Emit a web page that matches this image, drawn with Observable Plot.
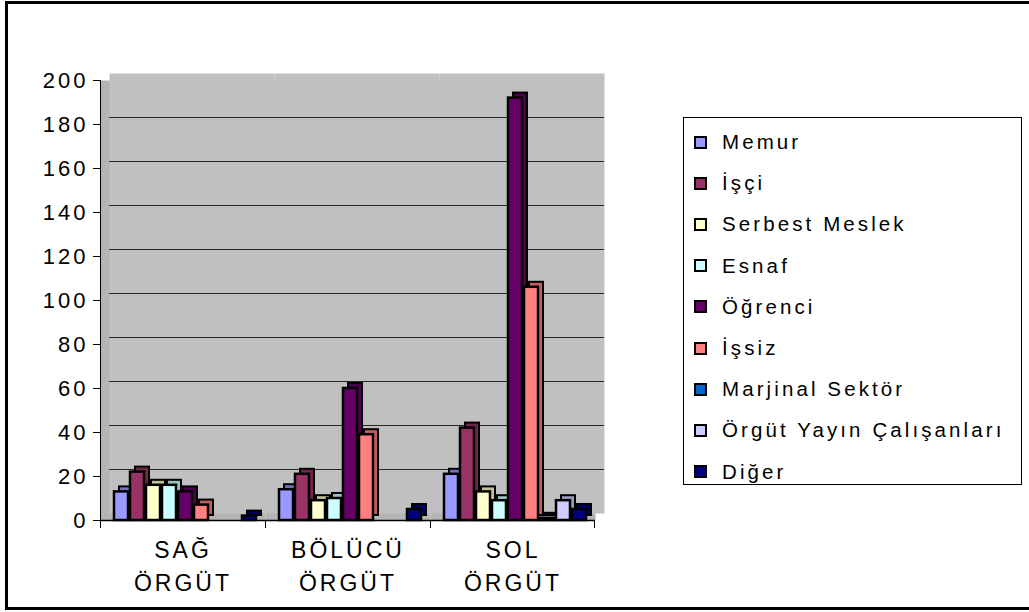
<!DOCTYPE html>
<html>
<head>
<meta charset="utf-8">
<script src="https://cdn.jsdelivr.net/npm/d3@7"></script>
<script src="https://cdn.jsdelivr.net/npm/@observablehq/plot@0.6"></script>
<style>
  html, body { margin: 0; padding: 0; background: #fff; }
  #wrap { position: relative; width: 1029px; height: 612px; overflow: hidden; font-family: "Liberation Sans", Arial, sans-serif; }
  #border { position: absolute; left: 5px; top: 1px; width: 1040px; height: 609px; border: 3px solid #000; box-sizing: border-box; }
  #chart { position: absolute; left: 0; top: 0; }
  #legend { position: absolute; left: 683px; top: 117px; width: 339px; height: 368px; border: 1px solid #000; box-sizing: border-box; background: #fff; }
  .item { position: absolute; left: 10px; height: 24px; display: flex; align-items: center; font-size: 20.5px; letter-spacing: 3.1px; color: #000; white-space: nowrap; }
  .sw { width: 9px; height: 9px; border: 2px solid #000; margin-right: 15px; flex: none; }
</style>
</head>
<body>
<div id="wrap">
  <div id="border"></div>
  <div id="chart"></div>
  <div id="legend"></div>
</div>
<script>
const groups = ["SAĞ ÖRGÜT", "BÖLÜCÜ ÖRGÜT", "SOL ÖRGÜT"];
const series = ["Memur", "İşçi", "Serbest Meslek", "Esnaf", "Öğrenci", "İşsiz", "Marjinal Sektör", "Örgüt Yayın Çalışanları", "Diğer"];
const colors = ["#9999FF", "#993366", "#FFFFCC", "#CCFFFF", "#660066", "#FF8080", "#0066CC", "#CCCCFF", "#000080"];
const sagValues    = [13, 22, 16, 16, 13, 7, 0, 0, 2];
const bolucuValues = [14, 21, 9, 10, 60, 39, 0, 0, 5];
const solValues    = [21, 42, 13, 9, 192, 106, 1, 9, 5];
const yTicks = [0, 20, 40, 60, 80, 100, 120, 140, 160, 180, 200];

const valuesByGroup = [sagValues, bolucuValues, solValues];
const colorOf = Object.fromEntries(series.map((s, i) => [s, colors[i]]));
const data = groups.flatMap((g, gi) => series.map((s, si) => ({group: g, series: s, value: valuesByGroup[gi][si]})));

const chart = Plot.plot({
  width: 1029,
  height: 612,
  marginLeft: 100,
  marginRight: 434,
  marginTop: 80,
  marginBottom: 92,
  style: {fontFamily: "'Liberation Sans', Arial, sans-serif", fontSize: "22px", letterSpacing: "3px", color: "#000", background: "transparent", overflow: "visible"},
  fx: {domain: groups, padding: 0, axis: null, label: null},
  x: {domain: series, axis: null, paddingInner: 0.1, paddingOuter: 0.61, align: 0.6},
  y: {domain: [0, 200], ticks: yTicks, tickSize: 7, tickPadding: 5, label: null},
  marks: [
    Plot.frame({fill: "#B4B4B4"}),
    Plot.frame({fill: "#C0C0C0", dx: 9, dy: -7}),
    Plot.gridY(yTicks.slice(1, -1), {dx: 9, dy: -7, stroke: "#000", strokeOpacity: 0.8}),
    Plot.ruleY([0], {stroke: "#000", strokeWidth: 1.5}),
    Plot.rect([groups[0]], {fx: d => d, y1: 0, y2: 200, insetRight: 164, fill: "#000"}),
    Plot.rect(groups, {fx: d => d, y1: 0, y2: 0, insetRight: 164, insetBottom: -8, fill: "#000"}),
    Plot.rect([groups[2]], {fx: d => d, y1: 0, y2: 0, insetLeft: 164, insetBottom: -8, fill: "#000"}),
    Plot.barY(data, {fx: "group", x: "series", y: "value", dx: 5, dy: -5, fill: d => d3.color(colorOf[d.series]).darker(0.8).formatHex(), stroke: "#000", strokeWidth: 2}),
    Plot.barY(data, {fx: "group", x: "series", y: "value", fill: d => colorOf[d.series], stroke: "#000", strokeWidth: 2.5}),
    Plot.axisFx({anchor: "bottom", tickSize: 0, tickPadding: 15, fontSize: 23, lineHeight: 1.4, label: null, tickFormat: d => d.replace(" ", "\n")})
  ]
});
document.getElementById("chart").appendChild(chart);

const legend = document.getElementById("legend");
series.forEach((s, i) => {
  const item = document.createElement("div");
  item.className = "item";
  item.style.top = (12 + i * 41.2) + "px";
  const sw = document.createElement("span");
  sw.className = "sw";
  sw.style.background = colors[i];
  const label = document.createElement("span");
  label.textContent = s;
  item.appendChild(sw);
  item.appendChild(label);
  legend.appendChild(item);
});
</script>
</body>
</html>
